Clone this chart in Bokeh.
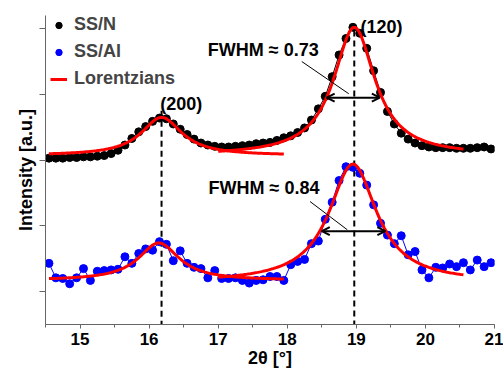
import numpy as np
from bokeh.plotting import figure
from bokeh.models import (Range1d, SingleIntervalTicker, FixedTicker, Legend, LegendItem,
                          Arrow, OpenHead, CustomJSTickFormatter)
from bokeh.core.properties import value
from bokeh.embed import file_html
from bokeh.resources import INLINE

# ---------------- data ----------------
two_theta = [14.55, 14.65, 14.75, 14.85, 14.95, 15.05, 15.15, 15.25, 15.35, 15.45,
             15.55, 15.65, 15.75, 15.85, 15.95, 16.05, 16.15, 16.25, 16.35, 16.45,
             16.55, 16.65, 16.75, 16.85, 16.95, 17.05, 17.15, 17.25, 17.35, 17.45,
             17.55, 17.65, 17.75, 17.85, 17.95, 18.05, 18.15, 18.25, 18.35, 18.45,
             18.55, 18.65, 18.75, 18.85, 18.95, 19.05, 19.15, 19.25, 19.35, 19.45,
             19.55, 19.65, 19.75, 19.85, 19.95, 20.05, 20.15, 20.25, 20.35, 20.45,
             20.55, 20.65, 20.75, 20.85, 20.95]

ss_n = [2.03, 2.03, 2.03, 2.04, 2.04, 2.05, 2.05, 2.06, 2.07, 2.10,
        2.15, 2.23, 2.33, 2.43, 2.51, 2.59, 2.64, 2.63, 2.55, 2.47,
        2.39, 2.32, 2.26, 2.23, 2.21, 2.20, 2.20, 2.21, 2.22, 2.23,
        2.25, 2.26, 2.27, 2.30, 2.34, 2.37, 2.42, 2.49, 2.61, 2.78,
        2.97, 3.27, 3.60, 3.85, 4.02, 3.93, 3.70, 3.36, 3.03, 2.74,
        2.55, 2.41, 2.32, 2.26, 2.22, 2.20, 2.19, 2.19, 2.19, 2.18,
        2.18, 2.18, 2.19, 2.20, 2.17]

ss_al = [0.43, 0.21, 0.20, 0.12, 0.21, 0.35, 0.17, 0.31, 0.32, 0.33,
         0.34, 0.53, 0.43, 0.58, 0.65, 0.63, 0.76, 0.72, 0.47, 0.62,
         0.43, 0.37, 0.35, 0.21, 0.32, 0.20, 0.20, 0.21, 0.17, 0.13,
         0.17, 0.18, 0.23, 0.23, 0.17, 0.41, 0.46, 0.49, 0.73, 0.77,
         1.10, 1.36, 1.69, 1.90, 1.89, 1.80, 1.62, 1.32, 1.04, 0.86,
         0.73, 0.85, 0.56, 0.61, 0.33, 0.21, 0.37, 0.36, 0.42, 0.38,
         0.44, 0.33, 0.48, 0.38, 0.44]

# Lorentzian fits: (200) SS/N, (120) SS/N, (200) SS/Al, (120) SS/Al
lor_center = [16.18, 18.97, 16.14, 18.95]
lor_fwhm = [0.72, 0.73, 0.72, 0.84]
lor_amp = [0.58, 1.95, 0.57, 1.80]
lor_base = [2.07, 2.07, 0.17, 0.14]
lor_start = [14.55, 17.0, 14.55, 17.0]
lor_end = [17.95, 20.55, 17.95, 20.55]

peak_labels = ["(200)", "(120)"]
peak_pos = [16.18, 18.97]
peak_line_top = [2.75, 3.97]
peak_label_x = [16.16, 19.06]
peak_label_y = [2.86, 4.02]

fwhm_labels = ["FWHM \u2248 0.73", "FWHM \u2248 0.84"]
fwhm_label_x = [16.85, 16.86]
fwhm_label_y = [3.68, 1.58]
fwhm_arrow_x0 = [18.57, 18.50]
fwhm_arrow_x1 = [19.34, 19.42]
fwhm_arrow_y = [2.95, 0.92]
pointer_x0 = [18.21, 18.33]
pointer_y0 = [3.50, 1.37]
pointer_x1 = [18.89, 18.87]
pointer_y1 = [3.01, 0.94]

y_ticks = [0, 1, 2, 3, 4]

FONT = "Liberation Sans"

p = figure(width=503, height=372, output_backend="svg", toolbar_location=None,
           x_range=Range1d(14.5, 21), y_range=Range1d(-0.5, 4.2),
           min_border_left=45, min_border_right=9, min_border_top=15, min_border_bottom=48)
p.outline_line_color = None
p.grid.visible = False
p.background_fill_color = "white"

# axes
p.xaxis.ticker = SingleIntervalTicker(interval=1, num_minor_ticks=2)
p.xaxis.axis_label = "2\u03b8 [\u00b0]"
p.yaxis.ticker = FixedTicker(ticks=y_ticks, minor_ticks=[])
p.yaxis.axis_label = "Intensity [a.u.]"
p.yaxis.formatter = CustomJSTickFormatter(code="return ''")
for ax in (p.xaxis[0], p.yaxis[0]):
    ax.axis_line_color = "#666666"
    ax.major_tick_line_color = "#666666"
    ax.minor_tick_line_color = "#666666"
    ax.major_tick_in = 0
    ax.minor_tick_in = 0
    ax.axis_label_text_font = FONT
    ax.axis_label_text_font_style = "bold"
    ax.axis_label_text_font_size = "18px"
    ax.axis_label_text_color = "black"
    ax.major_label_text_font = FONT
    ax.major_label_text_font_style = "bold"
    ax.major_label_text_color = "black"
p.xaxis.major_label_text_font_size = "17px"
p.xaxis.major_tick_out = 4
p.xaxis.minor_tick_out = 3
p.xaxis.major_label_standoff = 4
p.xaxis.axis_label_standoff = 0
p.yaxis.major_tick_out = 6
p.yaxis.minor_tick_out = 0
p.yaxis.major_label_standoff = 0
p.yaxis.axis_label_standoff = 4

# dashed peak lines
p.segment(x0=peak_pos, y0=peak_line_top, x1=peak_pos, y1=[-0.5, -0.5],
          line_color="black", line_width=2, line_dash="6 4")

# data
p.line(two_theta, ss_n, line_color="black", line_width=1)
r_n = p.scatter(two_theta, ss_n, size=8, fill_color="black", line_color="black")
p.line(two_theta, ss_al, line_color="blue", line_width=1)
r_al = p.scatter(two_theta, ss_al, size=8, fill_color="blue", line_color="blue")

# Lorentzians
red_renderers = []
for c, fw, a, b, s, e in zip(lor_center, lor_fwhm, lor_amp, lor_base, lor_start, lor_end):
    xs = np.linspace(s, e, 200)
    hw = fw / 2.0
    ys = b + a / (1.0 + ((xs - c) / hw) ** 2)
    red_renderers.append(p.line(xs, ys, line_color="red", line_width=3))

# FWHM arrows and pointer lines
for x0, x1, y in zip(fwhm_arrow_x0, fwhm_arrow_x1, fwhm_arrow_y):
    p.add_layout(Arrow(x_start=x0, y_start=y, x_end=x1, y_end=y,
                       line_color="black", line_width=2,
                       start=OpenHead(size=8, line_color="black", line_width=2),
                       end=OpenHead(size=8, line_color="black", line_width=2)))
p.segment(x0=pointer_x0, y0=pointer_y0, x1=pointer_x1, y1=pointer_y1,
          line_color="black", line_width=1)

# texts
p.text(x=peak_label_x, y=peak_label_y, text=peak_labels, text_font=value(FONT),
       text_font_style="bold", text_font_size="18px", text_baseline="middle",
       text_align="left", text_color="black")
p.text(x=fwhm_label_x, y=fwhm_label_y, text=fwhm_labels, text_font=value(FONT),
       text_font_style="bold", text_font_size="18px", text_baseline="middle",
       text_align="left", text_color="black")

# legend
legend = Legend(items=[LegendItem(label="SS/N", renderers=[r_n]),
                       LegendItem(label="SS/Al", renderers=[r_al]),
                       LegendItem(label="Lorentzians", renderers=[red_renderers[0]])],
                location=(5, 235), margin=0, padding=0, spacing=6,
                glyph_width=17, glyph_height=16, label_height=16, label_standoff=7,
                label_text_font=FONT, label_text_font_style="bold",
                label_text_font_size="18px", border_line_color=None,
                background_fill_alpha=0)
p.add_layout(legend)

open("out.html", "w").write(file_html(p, INLINE))
